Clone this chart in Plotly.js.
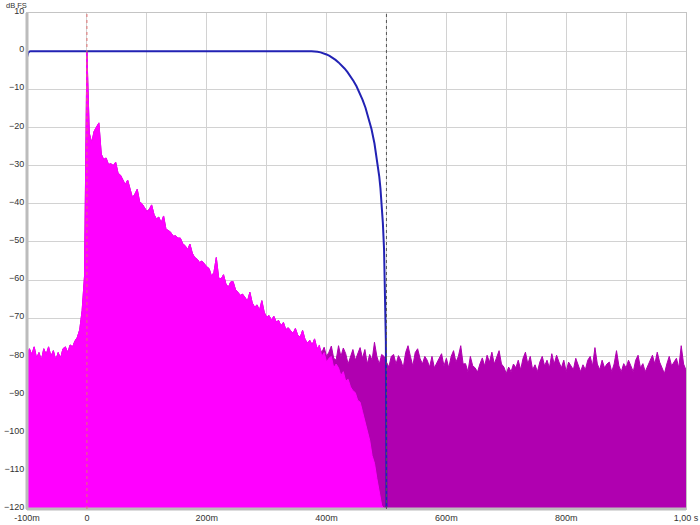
<!DOCTYPE html>
<html>
<head>
<meta charset="utf-8">
<script src="https://cdn.plot.ly/plotly-3.0.1.min.js"></script>
<style>
	html, body { margin: 0; padding: 0; background: #ffffff; }
	#plot { width: 700px; height: 525px; }
</style>
</head>
<body>
<div id="plot"></div>
<script>
// impulse response, dB FS, one value every 4 ms starting at -100 ms
var irStartMs = -100;
var irStepMs = 4;
var irDb = [
	-80, -78, -79.5, -77.5, -80.5, -79, -81, -78, -79.5, -77.5,
	-80, -78.5, -81, -79, -80.5, -78, -77.5, -79, -77, -77.5,
	-76, -75, -73, -68, -59, 0, -21.5, -24, -21, -20,
	-18.8, -27, -28.4, -28, -29.7, -29.5, -30, -29.1, -32, -32.5,
	-33.6, -35, -33.8, -36, -38.4, -37.5, -36.2, -39.5, -40, -41,
	-42, -41.5, -40.3, -42.8, -44, -43.5, -45, -43.2, -46.7, -47,
	-47.5, -48.5, -48.4, -49, -49, -50.5, -51, -52, -50.6, -53,
	-54.1, -54.5, -55.4, -55, -55.8, -56.5, -57, -59, -58, -54.1,
	-59.5, -59.7, -58.6, -61, -61.9, -60.5, -60.4, -62.5, -63.2, -64,
	-63.7, -64.5, -65.5, -63.2, -66, -67.1, -66.5, -68, -65.4, -68.5,
	-69.7, -69.3, -70.5, -69.5, -71, -70.6, -72, -71.1, -73, -72.5,
	-73.2, -74, -72.7, -74.5, -75, -73.2, -75.5, -76.5, -75.8, -77,
	-75.4, -78, -77.6, -79, -77.6, -80, -78.9, -77.3, -80.5, -81,
	-77.2, -80, -77.8, -79.3, -82, -80, -78.2, -81, -79.5, -77.7,
	-80.5, -78.2, -82, -79.5, -81, -76.3, -80, -82, -79.5, -80,
	-81.5, -82.8, -80, -79.5, -82, -79.8, -81, -83, -79, -77.2,
	-80, -82.5, -79, -78, -80.5, -82, -80, -81, -82.8, -80,
	-83, -81.5, -80.5, -79.3, -82.5, -80.5, -83, -80, -78.5, -81.5,
	-80, -77.2, -82, -81.9, -84, -80, -82.5, -83, -84.1, -82,
	-80.4, -82.5, -79.7, -81.5, -78.9, -82, -80, -78.5, -82, -82.8,
	-84.5, -82.8, -84, -82, -83, -81, -83.5, -80.5, -78.9, -82,
	-80, -83.5, -82.2, -84, -81.5, -80, -82.5, -81, -83, -79.3,
	-82, -79.7, -81.5, -83, -81, -84, -81.5, -82.5, -83.5, -80.5,
	-82.5, -84, -82.2, -83.5, -81, -80, -82.5, -77.7, -82, -83.5,
	-81, -83, -82, -81.5, -84, -82, -78.5, -82.5, -84, -81.9,
	-83, -81, -82.5, -84, -81, -79.7, -83, -81.9, -84, -82.5,
	-81, -79.7, -82, -78.9, -81.5, -83.2, -84.5, -82, -80, -82.5,
	-81.5, -80.5, -83, -77.2, -82, -83.6
];

// windowed response after the window starts to fall (380 ms .. 500 ms, 4 ms steps)
var windowedTailDb = [
	-75.5, -78, -77, -80, -79, -81.5, -80.5, -80, -83, -82,
	-83, -85, -84, -86.5, -86, -88, -89, -89.5, -91.5, -92,
	-94.5, -97, -99, -102, -106, -108, -112, -115.5, -119, -120,
	-120
];

// analysis window (blue curve)
var windowMs = [-100, -99, -98, -96, -94, 375, 380, 385, 390, 395, 400, 405, 410, 415,
	420, 425, 430, 435, 440, 445, 450, 455, 460, 465, 470, 475, 480, 485, 488, 490,
	492, 494, 496, 498, 499, 500];
var windowDb = [-1.6, -0.9, -0.45, -0.1, 0, 0, -0.03, -0.14, -0.31, -0.55, -0.87, -1.26, -1.74, -2.29,
	-2.94, -3.68, -4.53, -5.49, -6.58, -7.82, -9.2, -10.84, -12.7, -14.83, -17.4, -20.4, -24.2, -29.1, -32.9, -36,
	-40.3, -45, -52, -64, -76, -120];

// axis ticks
var xTickVals = [-100, 0, 100, 200, 300, 400, 500, 600, 700, 800, 900, 1000];
var xTickText = ['-100m', '0', '', '200m', '', '400m', '', '600m', '', '800m', '', '1,00 s'];
var yTickVals = [10, 0, -10, -20, -30, -40, -50, -60, -70, -80, -90, -100, -110, -120];

var floorDb = -120;
var peakMs = 0;
var windowEndMs = 500;


function buildTimes(count) {
	let t = [];
	for (var i = 0; i < count; i++) {
		t.push(irStartMs + i * irStepMs);
	}
	return t;
}


function generateImpulsePlot(id) {
	var plotDiv = document.getElementById(id);

	let rawMs = buildTimes(irDb.length);

	// windowed = raw response until the window starts falling, then the tail
	let keep = (380 - irStartMs) / irStepMs;
	let windowedDb = irDb.slice(0, keep).concat(windowedTailDb);
	let windowedMs = buildTimes(windowedDb.length);

	let baseline = {
		x: [irStartMs, 1000],
		y: [floorDb, floorDb],
		mode: 'lines',
		line: {width: 0, color: 'rgba(0,0,0,0)'},
		hoverinfo: 'skip',
		showlegend: false
	};

	let data = [
		baseline,
		{
			x: rawMs,
			y: irDb,
			mode: 'lines',
			fill: 'tonexty',
			fillcolor: '#b000b0',
			line: {color: '#b000b0', width: 1},
			showlegend: false
		},
		baseline,
		{
			x: windowedMs,
			y: windowedDb,
			mode: 'lines',
			fill: 'tonexty',
			fillcolor: '#ff00ff',
			line: {color: '#ff00ff', width: 1},
			showlegend: false
		},
		{
			x: windowMs,
			y: windowDb,
			mode: 'lines',
			line: {color: '#2222b4', width: 2},
			showlegend: false
		}
	];

	let axisFont = {family: 'Liberation Sans, Arial, sans-serif', size: 9, color: '#333333'};

	let layout = {
		width: 700,
		height: 525,
		margin: {l: 27, r: 14, t: 13, b: 16, pad: 0},
		paper_bgcolor: '#ffffff',
		plot_bgcolor: '#ffffff',
		xaxis: {
			range: [-100, 1000],
			tickvals: xTickVals,
			ticktext: xTickText,
			tickfont: axisFont,
			showgrid: true,
			gridcolor: '#d2d2d2',
			gridwidth: 1,
			zeroline: false,
			showline: true,
			linecolor: '#c4c4c4',
			linewidth: 1,
			mirror: true,
			ticks: '',
			fixedrange: true
		},
		yaxis: {
			range: [-120, 10],
			tickvals: yTickVals,
			tickfont: axisFont,
			ticklabelshift: -2,
			showgrid: true,
			gridcolor: '#d2d2d2',
			gridwidth: 1,
			zeroline: false,
			showline: true,
			linecolor: '#c4c4c4',
			linewidth: 1,
			mirror: true,
			ticks: '',
			fixedrange: true
		},
		shapes: [
			// heavier frame on the left and bottom edges
			{type: 'line', xref: 'paper', yref: 'paper', x0: 0, x1: 0, y0: 0, y1: 1,
				line: {color: '#bcbcbc', width: 3}},
			{type: 'line', xref: 'paper', yref: 'paper', x0: 0, x1: 1, y0: 0, y1: 0,
				line: {color: '#bcbcbc', width: 3}},
			// peak marker
			{type: 'line', xref: 'x', yref: 'paper', x0: peakMs, x1: peakMs, y0: 0, y1: 1,
				line: {color: '#e07070', width: 1, dash: 'dot'}},
			// window end marker
			{type: 'line', xref: 'x', yref: 'paper', x0: windowEndMs, x1: windowEndMs, y0: 0, y1: 1,
				line: {color: '#555555', width: 1, dash: 'dot'}}
		],
		annotations: [
			{text: 'dB FS', xref: 'paper', yref: 'paper', x: -0.034, y: 1.0, yshift: 13,
				xanchor: 'left', yanchor: 'top', borderpad: 0, showarrow: false,
				font: {family: 'Liberation Sans, Arial, sans-serif', size: 7.5, color: '#333333'}}
		]
	};

	Plotly.newPlot(plotDiv, data, layout, {displayModeBar: false, staticPlot: true});
}

generateImpulsePlot('plot');
</script>
</body>
</html>
